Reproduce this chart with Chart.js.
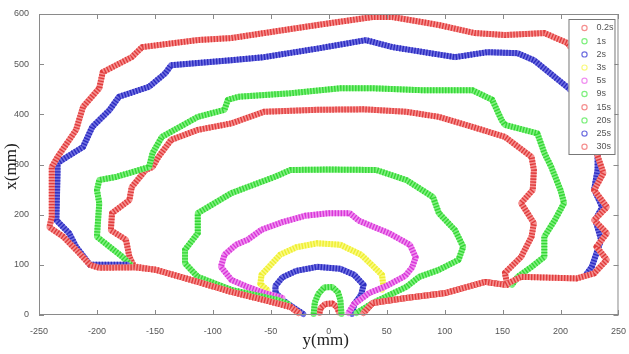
<!DOCTYPE html>
<html>
<head>
<meta charset="utf-8">
<script src="https://cdn.jsdelivr.net/npm/chart.js@4/dist/chart.umd.min.js"></script>
<style>
  html, body { margin: 0; padding: 0; background: #fff; }
  #wrap { width: 629px; height: 354px; }
</style>
</head>
<body>
<div id="wrap"><canvas id="fronts"></canvas></div>
<script>
// contour of each time step, [y(mm), x(mm)]
const labels = ['0.2s', '1s', '2s', '3s', '5s', '9s', '15s', '20s', '25s', '30s'];
const colors = ['#e03c3c', '#34d634', '#2c2cc0', '#eeee30', '#d838d8', '#34d634', '#e03c3c', '#34d634', '#2c2cc0', '#e03c3c'];
const paleColors = ['#f59090', '#80f080', '#7070e0', '#fafa80', '#f090f0', '#80f080', '#f59090', '#80f080', '#7070e0', '#f59090'];

const s02 = [[-8,4],[-7,14],[-3,22],[3,23],[7,16],[9,5]];
const s1 = [[-13,2],[-12,25],[-9,42],[-4,55],[3,56],[8,45],[10,30],[11,2]];
const s2 = [[-22,2],[-30,14],[-40,30],[-46,45],[-46,58],[-40,75],[-28,88],[-10,96],[10,92],[22,80],[30,60],[28,40],[22,22],[20,2]];
const s3 = [[-53,50],[-59,62],[-58,80],[-50,100],[-42,120],[-28,135],[-10,143],[10,140],[28,120],[38,98],[46,80],[47,60],[46,50]];
const s5 = [[-40,34],[-56,44],[-70,56],[-84,70],[-93,96],[-90,120],[-80,140],[-70,150],[-58,170],[-40,185],[-20,198],[0,203],[18,203],[26,188],[52,163],[70,140],[75,115],[72,95],[66,78],[50,58],[35,44],[22,22],[17,4]];
const s9 = [[-35,22],[-44,30],[-56,36],[-84,50],[-113,76],[-124,103],[-124,130],[-113,163],[-113,203],[-84,243],[-47,275],[-33,289],[0,290],[41,289],[67,269],[90,235],[95,203],[109,169],[116,136],[112,110],[95,90],[78,76],[67,56],[38,24],[24,4]];
const s15 = [[-26,4],[-33,16],[-56,30],[-84,46],[-113,66],[-149,90],[-168,97],[-172,116],[-175,150],[-188,169],[-187,203],[-172,229],[-170,255],[-158,289],[-152,295],[-147,315],[-136,349],[-113,369],[-84,382],[-56,405],[-10,409],[30,410],[67,405],[95,395],[124,375],[152,355],[175,315],[177,289],[176,249],[166,223],[177,183],[175,156],[166,116],[152,84],[154,60],[135,66],[101,44],[67,34],[38,24],[30,4]];
const s20 = [[-171,100],[-178,116],[-189,136],[-200,156],[-199,190],[-198,223],[-200,249],[-198,269],[-184,275],[-155,295],[-152,323],[-144,355],[-113,395],[-90,409],[-87,429],[-78,435],[-33,442],[10,452],[38,452],[81,448],[124,448],[141,429],[149,389],[152,379],[180,362],[186,323],[192,295],[193,289],[200,249],[203,223],[195,189],[186,156],[186,116],[175,96],[163,76],[158,60]];
const s25 = [[-174,100],[-206,100],[-218,136],[-224,163],[-235,189],[-234,283],[-234,303],[-226,315],[-212,335],[-204,375],[-189,409],[-181,435],[-155,455],[-141,482],[-136,498],[-84,508],[-56,514],[-10,531],[32,548],[55,534],[109,514],[137,524],[163,522],[177,508],[207,452],[222,420],[230,380],[232,330],[232,290],[229,250],[236,215],[230,190],[235,150],[227,96],[222,80]];
const s30 = [[-26,4],[-33,16],[-56,30],[-84,46],[-113,66],[-149,90],[-168,95],[-198,94],[-206,100],[-218,130],[-229,156],[-241,175],[-239,195],[-239,269],[-239,295],[-234,315],[-218,369],[-212,415],[-198,452],[-195,484],[-170,514],[-161,534],[-113,548],[-84,552],[-10,578],[38,594],[55,594],[95,578],[126,562],[152,558],[186,562],[206,542],[220,500],[228,440],[232,380],[230,330],[237,283],[229,249],[240,215],[229,189],[240,163],[231,136],[240,110],[229,83],[214,73],[166,76],[152,60],[135,66],[101,44],[67,34],[38,24],[30,4]];
const series = [s02, s1, s2, s3, s5, s9, s15, s20, s25, s30];

const xTickVals = [-250, -200, -150, -100, -50, 0, 50, 100, 150, 200, 250];
const yTickVals = [0, 100, 200, 300, 400, 500, 600];

const datasets = series.map((pts, i) => ({
  label: labels[i],
  data: pts.map(p => ({ x: p[0], y: p[1] })),
  showLine: true,
  borderColor: colors[i],
  borderWidth: 6,
  borderDash: [1.4, 1.6],
  borderJoinStyle: 'round',
  pointRadius: 0,
  order: 10 - i  // later steps drawn on top, like the original plot
}));

// pale band under each dashed line, so the dense circle markers read as a chain
const bandUnder = {
  id: 'bandUnder',
  beforeDatasetDraw(chart, args) {
    const pts = args.meta.data;
    const ctx = chart.ctx;
    ctx.save();
    ctx.strokeStyle = paleColors[args.index];
    ctx.lineWidth = 6;
    ctx.lineJoin = 'round';
    ctx.lineCap = 'round';
    ctx.beginPath();
    pts.forEach((p, k) => k ? ctx.lineTo(p.x, p.y) : ctx.moveTo(p.x, p.y));
    ctx.stroke();
    ctx.restore();
  }
};

// box, inward ticks, axis titles and the framed legend
const matlabAxes = {
  id: 'matlabAxes',
  afterDatasetsDraw(chart) {
    const { ctx, chartArea: a, scales } = chart;
    ctx.save();
    ctx.strokeStyle = '#8a8a8a';
    ctx.lineWidth = 1;
    ctx.strokeRect(a.left + 0.5, a.top + 0.5, a.right - a.left - 1, a.bottom - a.top - 1);
    ctx.beginPath();
    xTickVals.forEach(v => {
      const px = Math.round(scales.x.getPixelForValue(v)) + 0.5;
      ctx.moveTo(px, a.bottom); ctx.lineTo(px, a.bottom - 5);
      ctx.moveTo(px, a.top); ctx.lineTo(px, a.top + 5);
    });
    yTickVals.forEach(v => {
      const py = Math.round(scales.y.getPixelForValue(v)) + 0.5;
      ctx.moveTo(a.left, py); ctx.lineTo(a.left + 5, py);
      ctx.moveTo(a.right, py); ctx.lineTo(a.right - 5, py);
    });
    ctx.stroke();

    ctx.fillStyle = '#222';
    ctx.font = '17px "Liberation Serif", serif';
    ctx.textAlign = 'center';
    ctx.textBaseline = 'middle';
    ctx.fillText('y(mm)', (a.left + a.right) / 2 - 3, 341);
    ctx.translate(12, (a.top + a.bottom) / 2 + 2);
    ctx.rotate(-Math.PI / 2);
    ctx.fillText('x(mm)', 0, 0);
    ctx.restore();
  },
  afterDraw(chart) {
    const { ctx, chartArea: a } = chart;
    const boxL = a.right - 50, boxT = a.top + 5, boxW = 46, boxH = 135;
    ctx.save();
    ctx.fillStyle = '#fff';
    ctx.fillRect(boxL, boxT, boxW, boxH);
    ctx.strokeStyle = '#777';
    ctx.lineWidth = 1;
    ctx.strokeRect(boxL + 0.5, boxT + 0.5, boxW, boxH);
    ctx.font = '9px "Liberation Sans Narrow", "Liberation Sans", sans-serif';
    ctx.textBaseline = 'middle';
    ctx.textAlign = 'left';
    chart.data.datasets.forEach((ds, i) => {
      const cy = boxT + 9 + i * 13.2;
      ctx.beginPath();
      ctx.arc(boxL + 16, cy, 2.6, 0, Math.PI * 2);
      ctx.strokeStyle = paleColors[i];
      ctx.lineWidth = 1.2;
      ctx.stroke();
      ctx.fillStyle = '#555';
      ctx.fillText(ds.label, boxL + 28, cy);
    });
    ctx.restore();
  }
};

new Chart(document.getElementById('fronts'), {
  type: 'scatter',
  data: { datasets },
  options: {
    responsive: true,
    maintainAspectRatio: false,
    animation: false,
    layout: { padding: { left: 0, right: 4, top: 14, bottom: 0 } },
    plugins: { legend: { display: false }, tooltip: { enabled: false } },
    scales: {
      x: {
        type: 'linear', min: -250, max: 250,
        afterBuildTicks: s => { s.ticks = xTickVals.map(v => ({ value: v })); },
        afterFit: s => { s.height = 39; },
        grid: { display: false }, border: { display: false },
        ticks: { padding: 3, color: '#555', font: { family: '"Liberation Sans Narrow", "Liberation Sans", sans-serif', size: 9 }, maxRotation: 0 }
      },
      y: {
        type: 'linear', min: 0, max: 600,
        afterBuildTicks: s => { s.ticks = yTickVals.map(v => ({ value: v })); },
        afterFit: s => { s.width = 39; },
        grid: { display: false }, border: { display: false },
        ticks: { padding: 2, color: '#555', font: { family: '"Liberation Sans Narrow", "Liberation Sans", sans-serif', size: 9 } }
      }
    }
  },
  plugins: [bandUnder, matlabAxes]
});
</script>
</body>
</html>
